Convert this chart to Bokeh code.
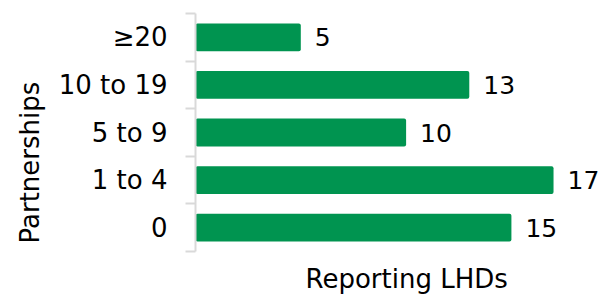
from bokeh.plotting import figure
from bokeh.models import ColumnDataSource, FixedTicker, LabelSet, Range1d, Title
from bokeh.core.properties import value
from bokeh.embed import file_html
from bokeh.resources import INLINE

categories = ["0", "1 to 4", "5 to 9", "10 to 19", "\u226520"]
values = [15, 17, 10, 13, 5]
x_title = "Reporting LHDs"
y_title = "Partnerships"

FONT = "DejaVu Sans"
FS = "26px"
BAR = "#009450"
AXIS = "#d9d9d9"

ypos = [i + 0.5 for i in range(len(categories))]
src = ColumnDataSource(dict(y=ypos, v=values, lab=[str(v) for v in values]))

p = figure(width=600, height=303, output_backend="svg", toolbar_location=None,
           x_range=Range1d(0, 19.23), y_range=Range1d(0, len(categories)),
           min_border_left=195, min_border_right=0, min_border_top=13, min_border_bottom=50)
p.outline_line_color = None
p.grid.grid_line_color = None
p.background_fill_color = "white"
p.border_fill_color = "white"

p.hbar(y="y", right="v", left=0, height=0.585, source=src, color=BAR, line_color=None,
       border_radius=2)

p.add_layout(LabelSet(x="v", y="y", text="lab", source=src, x_offset=14,
                      text_font=value(FONT), text_font_size=value("25px"), text_baseline="middle",
                      text_color="black"))

p.xaxis.visible = False
ya = p.yaxis[0]
ya.ticker = FixedTicker(ticks=ypos, minor_ticks=list(range(len(categories) + 1)))
ya.major_label_overrides = {y: c for y, c in zip(ypos, categories)}
ya.major_tick_line_color = None
ya.major_tick_out = 0
ya.major_tick_in = 0
ya.minor_tick_line_color = AXIS
ya.minor_tick_line_width = 2
ya.minor_tick_out = 10
ya.minor_tick_in = 0
ya.axis_line_color = AXIS
ya.axis_line_width = 2
ya.major_label_standoff = 18
ya.major_label_text_font = FONT
ya.major_label_text_font_size = FS
ya.major_label_text_color = "black"

p.add_layout(Title(text=y_title, align="left", offset=8, standoff=21,
                   text_font=FONT, text_font_size=FS, text_font_style="normal",
                   text_color="black"), "left")
p.add_layout(Title(text=x_title, align="left", offset=110, standoff=20,
                   text_font=FONT, text_font_size=FS, text_font_style="normal",
                   text_color="black"), "below")

open("out.html", "w").write(file_html(p, INLINE))
